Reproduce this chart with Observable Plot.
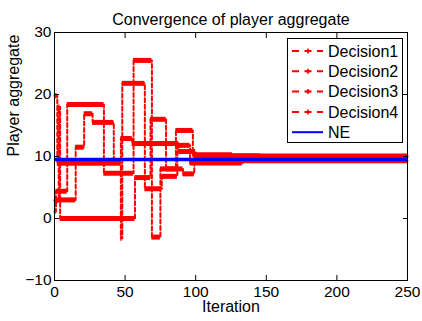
<!DOCTYPE html>
<html><head><meta charset="utf-8">
<script src="https://cdn.jsdelivr.net/npm/d3@7"></script>
<script src="https://cdn.jsdelivr.net/npm/@observablehq/plot@0.6"></script>
<style>body{margin:0;background:#fff;} svg{display:block;}</style>
</head><body><div id="chart"></div>
<script>
const titleText = "Convergence of player aggregate";
const xLabel = "Iteration";
const yLabel = "Player aggregate";
const seriesNames = ["Decision1", "Decision2", "Decision3", "Decision4"];
const neName = "NE";
const xTicks = [0, 50, 100, 150, 200, 250];
const yTicks = [-10, 0, 10, 20, 30];
const neValue = 9.5;
// change points [iteration, value] (held until the next change)
const decision1 = [[0,1.1],[1,4.4],[9,18.4],[35,7.3],[56,25.5],[69,-3],[75,8],[86,14.2],[98,10.3],[126,10.1],[146,9.9],[250,9.9]];
const decision2 = [[0,19.8],[2,8.9],[47,-3.2],[48,21.8],[64,4.8],[76,6.8],[87,11.8],[96,8.95],[133,9.3],[250,9.3]];
const decision3 = [[0,2.9],[3,18],[4,0],[57,6.6],[68,16],[79,8],[91,7.2],[99,9.6],[250,9.6]];
const decision4 = [[0,3],[15,11.5],[21,16.9],[27,15.5],[42,9.2],[47,12.9],[55,12.1],[88,10.8],[100,10.1],[250,10.1]];

const allSeries = [decision1, decision2, decision3, decision4];
const points = [];
const segs = [];
allSeries.forEach((s, k) => {
  s.forEach(([x, y]) => points.push({series: seriesNames[k], x, y}));
  for (let i = 0; i < s.length - 1; i++) segs.push({series: seriesNames[k], x1: s[i][0], x2: s[i+1][0], y: s[i][1]});
});

const red = "#ff0000", blue = "#0000ff";
const font = "'Liberation Sans', Arial, sans-serif";

const plot = Plot.plot({
  width: 422, height: 321,
  marginLeft: 54, marginRight: 15, marginTop: 32, marginBottom: 41,
  style: {fontFamily: font, fontSize: "15.5px", background: "white", color: "black", overflow: "visible"},
  x: {domain: [0, 250]},
  y: {domain: [-10, 30]},
  marks: [
    Plot.ruleY(segs, {x1: "x1", x2: "x2", y: "y", stroke: red, strokeWidth: 5}),
    Plot.line(points, {x: "x", y: "y", z: "series", curve: "step-after", stroke: red, strokeWidth: 2, strokeDasharray: "4,2.5"}),
    Plot.ruleY([neValue], {stroke: blue, strokeWidth: 3.5}),
    Plot.axisX({ticks: xTicks, tickSize: -5, tickPadding: 10, tickFormat: d => String(d), label: null, fontSize: 15.5}),
    Plot.axisX({anchor: "top", ticks: xTicks, tickSize: -5, tickFormat: () => "", label: null}),
    Plot.axisY({ticks: yTicks, tickSize: -5, tickPadding: 8, tickFormat: d => (d < 0 ? "\u2212" + Math.abs(d) : String(d)), label: null, fontSize: 15.5}),
    Plot.axisY({anchor: "right", ticks: yTicks, tickSize: -5, tickFormat: () => "", label: null}),
    Plot.frame({stroke: "black", strokeWidth: 1}),
    Plot.text([titleText], {frameAnchor: "top", dy: -19, fontSize: 16}),
    Plot.text([xLabel], {frameAnchor: "bottom", dy: 31, fontSize: 16}),
    Plot.text([yLabel], {frameAnchor: "left", dx: -41, rotate: -90, fontSize: 16})
  ]
});
document.getElementById("chart").appendChild(plot);

// legend
const svg = d3.select(plot);
const lg = svg.append("g");
const entries = seriesNames.map(n => ({name: n, color: red, dashed: true})).concat([{name: neName, color: blue, dashed: false}]);
lg.append("rect").attr("x", 287.5).attr("y", 38.5).attr("width", 115).attr("height", 104)
  .attr("fill", "white").attr("stroke", "black").attr("stroke-width", 1);
entries.forEach((e, i) => {
  const y = 51 + i * 20.3;
  if (e.dashed) {
    lg.append("line").attr("x1", 292).attr("x2", 323).attr("y1", y).attr("y2", y)
      .attr("stroke", e.color).attr("stroke-width", 2).attr("stroke-dasharray", "7,5.5");
    lg.append("path").attr("d", `M${305.5},${y}h5M${308},${y-2.5}v5`).attr("stroke", e.color).attr("stroke-width", 1.5);
    lg.append("circle").attr("cx", 308).attr("cy", y).attr("r", 1.6).attr("fill", e.color);
  } else {
    lg.append("line").attr("x1", 292).attr("x2", 323).attr("y1", y).attr("y2", y)
      .attr("stroke", e.color).attr("stroke-width", 2);
  }
  lg.append("text").attr("x", 328).attr("y", y).attr("dy", "0.35em").attr("text-anchor", "start")
    .attr("font-family", font).attr("font-size", 16).attr("fill", "black").text(e.name);
});
</script>
</body></html>
